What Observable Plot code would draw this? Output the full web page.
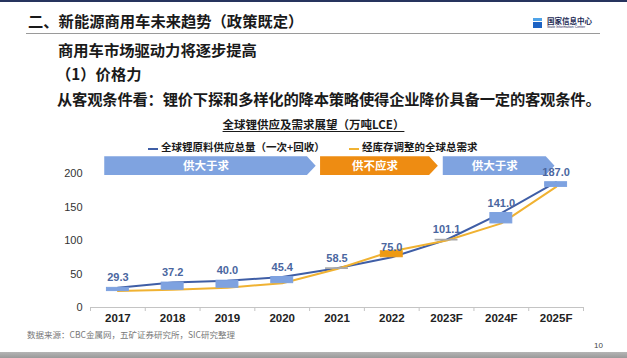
<!DOCTYPE html>
<html>
<head>
<meta charset="utf-8">
<script src="https://cdn.jsdelivr.net/npm/d3@7"></script>
<script src="https://cdn.jsdelivr.net/npm/@observablehq/plot@0.6"></script>
<style>
  html, body { margin: 0; padding: 0; background: #fff; }
  #page { position: relative; width: 627px; height: 358px; overflow: hidden; background: #fff;
          font-family: "Noto Sans CJK SC", "Liberation Sans", sans-serif; color: #1a1a1a; }
  .abs { position: absolute; white-space: nowrap; line-height: 1; }
  #topbar { left: 0; top: 0; width: 627px; height: 2px; background: #26345e; }
  #bottombar { left: 0; top: 352px; width: 627px; height: 6px; background: linear-gradient(#b5b5b5, #9a9a9a); }
  #h1 { left: 28px; top: 13px; font-size: 15.3px; font-weight: 700; }
  #rule { left: 26px; top: 33px; width: 574px; height: 1px; background: #9a9a9a; }
  #h2 { left: 58px; top: 42px; font-size: 15.3px; font-weight: 700; }
  #h3 { left: 56px; top: 66px; font-size: 15.3px; font-weight: 700; }
  #h4 { left: 57px; top: 91px; font-size: 15.3px; font-weight: 700; letter-spacing: -0.2px; }
  #logoicon { left: 533px; top: 18px; width: 9px; height: 10px;
              background: linear-gradient(#4fa3e8 0 30%, #fff 30% 40%, #1d63c4 40% 100%); }
  #logotext { left: 547px; top: 17px; font-size: 7.5px; font-family: "Noto Sans CJK SC", serif; font-weight: 700; color: #1c2a55; }
  #logoen { left: 547px; top: 26px; font-size: 3.5px; color: #1c2a55; font-family: "Liberation Sans"; }
  #ctitle { left: 0; width: 627px; text-align: center; top: 119px; font-size: 11.5px; font-weight: 700;
            text-decoration: underline; text-underline-offset: 2px; }
  .leg { top: 142px; font-size: 10.5px; font-weight: 700; }
  .legline { position: absolute; top: 148px; width: 10px; height: 2px; }
  #src { left: 27px; top: 330px; font-size: 8.5px; color: #777; }
  #pnum { left: 594px; top: 342px; font-size: 8px; color: #444; font-family: "Liberation Sans"; }
  #chart { position: absolute; left: 0; top: 150px; }
</style>
</head>
<body>
<div id="page">
  <div id="topbar" class="abs"></div>
  <div id="h1" class="abs">二、新能源商用车未来趋势（政策既定）</div>
  <div id="logoicon" class="abs"></div>
  <div id="logotext" class="abs">国家信息中心</div>
  <div id="logoen" class="abs">State Information Center</div>
  <div id="rule" class="abs"></div>
  <div id="h2" class="abs">商用车市场驱动力将逐步提高</div>
  <div id="h3" class="abs">（1）价格力</div>
  <div id="h4" class="abs">从客观条件看：锂价下探和多样化的降本策略使得企业降价具备一定的客观条件。</div>
  <div id="ctitle" class="abs">全球锂供应及需求展望（万吨LCE）</div>
  <div class="legline" style="left:148px;background:#3f5ea6"></div>
  <div class="abs leg" style="left:161px">全球锂原料供应总量（一次+回收）</div>
  <div class="legline" style="left:349px;background:#f0b232"></div>
  <div class="abs leg" style="left:362px">经库存调整的全球总需求</div>
  <div id="chart"></div>
  <div id="src" class="abs">数据来源：CBC金属网，五矿证券研究所，SIC研究整理</div>
  <div id="pnum" class="abs">10</div>
  <div id="bottombar" class="abs"></div>
</div>
<script>
// ---- data ----
const years = ["2017", "2018", "2019", "2020", "2021", "2022", "2023F", "2024F", "2025F"];
const supply = [29.3, 37.2, 40.0, 45.4, 58.5, 75.0, 101.1, 141.0, 187.0];
const demand = [24.5, 26.4, 29.5, 36.3, 57.5, 84.0, 100.0, 125.5, 180.0];
const yTicks = [0, 50, 100, 150, 200];
const bannerLabels = ["供大于求", "供不应求", "供大于求"];
const bannerStart = [-0.24, 3.70, 5.94];   // in category-index units
const bannerEnd = [3.62, 5.85, 7.98];

// ---- styles ----
const blueLine = "#3f5ea6", orangeLine = "#f0b232";
const blueBox = "#7ea2e0", orangeBox = "#ee9a14", grayBox = "#a8a8a8";
const bannerColors = ["#7fa3e0", "#ee8c12", "#7fa3e0"];
const tip = 0.16, bTop = 225, bBot = 197;

const idx = d3.range(years.length);
const rows = idx.map(i => ({i, year: years[i], s: supply[i], d: demand[i]}));
const boundaries = d3.range(years.length + 1).map(k => k - 0.5);

const bannerMarks = bannerLabels.flatMap((lab, k) => {
  const s = bannerStart[k], e = bannerEnd[k];
  const pts = [
    {x: s, y1: bBot, y2: bTop},
    {x: e - tip, y1: bBot, y2: bTop},
    {x: e, y1: (bBot + bTop) / 2, y2: (bBot + bTop) / 2}
  ];
  return [
    Plot.areaY(pts, {x: "x", y1: "y1", y2: "y2", fill: bannerColors[k]}),
    Plot.text([lab], {x: (s + e - tip) / 2, y: (bBot + bTop) / 2, text: d => d, fill: "#fff",
      fontWeight: 700, fontSize: 11.5, fontFamily: "Noto Sans CJK SC"})
  ];
});

const boxColor = r => (r.s - r.d > 2 ? blueBox : r.d - r.s > 2 ? orangeBox : grayBox);

const chart = Plot.plot({
  width: 627,
  height: 190,
  marginLeft: 90,
  marginRight: 44,
  marginTop: 23,
  marginBottom: 33,
  style: {fontFamily: "'Liberation Sans', 'Noto Sans CJK SC', sans-serif", background: "transparent", overflow: "visible"},
  x: {type: "linear", domain: [-0.5, years.length - 0.5]},
  y: {domain: [0, 200]},
  marks: [
    ...bannerMarks,
    Plot.axisY({ticks: yTicks, tickSize: 0, tickPadding: 8, fontSize: 11, color: "#333", label: null}),
    Plot.ruleY([0], {stroke: "#c4c4c4", strokeWidth: 1.2}),
    Plot.axisX({ticks: boundaries, tickSize: 4, tickFormat: () => "", stroke: "#c4c4c4", label: null}),
    Plot.axisX({ticks: idx, tickSize: 0, tickPadding: 6, tickFormat: i => years[i], fontSize: 11.5,
      fontWeight: 700, color: "#222", label: null}),
    Plot.line(rows, {x: "i", y: "s", stroke: blueLine, strokeWidth: 2}),
    Plot.line(rows, {x: "i", y: "d", stroke: orangeLine, strokeWidth: 2}),
    Plot.rect(rows, {x1: r => r.i - 0.2, x2: r => r.i + 0.2, y1: "d", y2: "s",
      fill: boxColor, stroke: boxColor, strokeWidth: 1}),
    Plot.text(rows, {x: "i", y: "s", text: r => r.s.toFixed(1), dy: -10, fontSize: 11,
      fontWeight: 700, fill: "#4a66a0"})
  ]
});
document.getElementById("chart").appendChild(chart);
</script>
</body>
</html>
